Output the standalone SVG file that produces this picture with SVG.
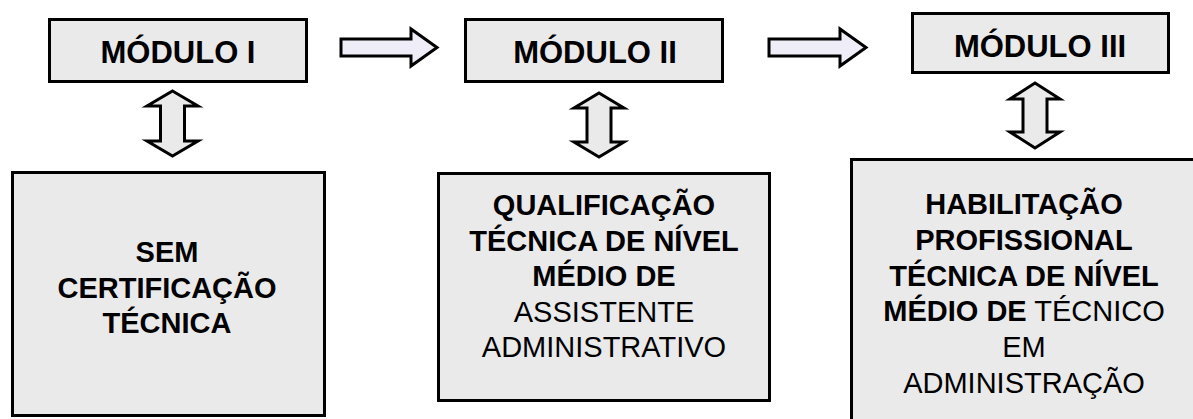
<svg xmlns="http://www.w3.org/2000/svg" width="1193" height="419" viewBox="0 0 1193 419">
<style>
.box{fill:#eaeaea;stroke:#000;stroke-width:3}
.harrow{fill:#efeef8;stroke:#000;stroke-width:3;stroke-linejoin:miter}
.varrow{fill:#eaeaea;stroke:#000;stroke-width:3;stroke-linejoin:miter}
text{font-family:"Liberation Sans",Arial,sans-serif;fill:#000;text-anchor:middle}
.h{font-size:31px;font-weight:bold}
.t{font-size:29px}
.b{font-weight:bold}
.r{font-weight:normal}
</style>
<rect width="1193" height="419" fill="#fff"/>
<g id="connectors">
<polygon class="harrow" points="341,39 411,39 411,29 437,47.5 411,66 411,56 341,56"/>
<polygon class="harrow" points="769,39 840,39 840,29 866,47.5 840,66 840,56 769,56"/>
<polygon class="varrow" points="172.5,91 198,106 184.5,106 184.5,141 198,141 172.5,156 147,141 160.5,141 160.5,106 147,106"/>
<polygon class="varrow" points="599,93 624,108 611,108 611,142 624,142 599,157 574,142 587,142 587,108 574,108"/>
<polygon class="varrow" points="1035,83 1060,99 1047,99 1047,132 1060,132 1035,148 1010,132 1023,132 1023,99 1010,99"/>
</g>
<g id="modulo1">
<rect class="box" x="49.5" y="19.5" width="257" height="62"/>
<text class="h" x="178" y="63">MÓDULO I</text>
</g>
<g id="modulo2">
<rect class="box" x="465.5" y="19.5" width="257" height="62"/>
<text class="h" x="595" y="63">MÓDULO II</text>
</g>
<g id="modulo3">
<rect class="box" x="912.5" y="13.5" width="256" height="59"/>
<text class="h" x="1040" y="57">MÓDULO III</text>
</g>
<g id="sem-certificacao">
<rect class="box" x="12.5" y="172.5" width="312" height="243"/>
<text class="t b" x="167"><tspan x="167" y="262">SEM</tspan><tspan x="167" y="297.5">CERTIFICAÇÃO</tspan><tspan x="167" y="333">TÉCNICA</tspan></text>
</g>
<g id="qualificacao">
<rect class="box" x="438.5" y="173.5" width="331" height="227"/>
<text class="t" x="604"><tspan class="b" x="604" y="215">QUALIFICAÇÃO</tspan><tspan class="b" x="604" y="250.5">TÉCNICA DE NÍVEL</tspan><tspan class="b" x="604" y="286">MÉDIO DE</tspan><tspan class="r" x="604" y="321.5">ASSISTENTE</tspan><tspan class="r" x="604" y="357">ADMINISTRATIVO</tspan></text>
</g>
<g id="habilitacao">
<rect class="box" x="851.5" y="159.5" width="346" height="270"/>
<text class="t" x="1024"><tspan class="b" x="1024" y="214">HABILITAÇÃO</tspan><tspan class="b" x="1024" y="249.8">PROFISSIONAL</tspan><tspan class="b" x="1024" y="285.6">TÉCNICA DE NÍVEL</tspan><tspan x="1024" y="321.4"><tspan class="b">MÉDIO DE</tspan><tspan class="r"> TÉCNICO</tspan></tspan><tspan class="r" x="1024" y="357.2">EM</tspan><tspan class="r" x="1024" y="393">ADMINISTRAÇÃO</tspan></text>
</g>
</svg>
